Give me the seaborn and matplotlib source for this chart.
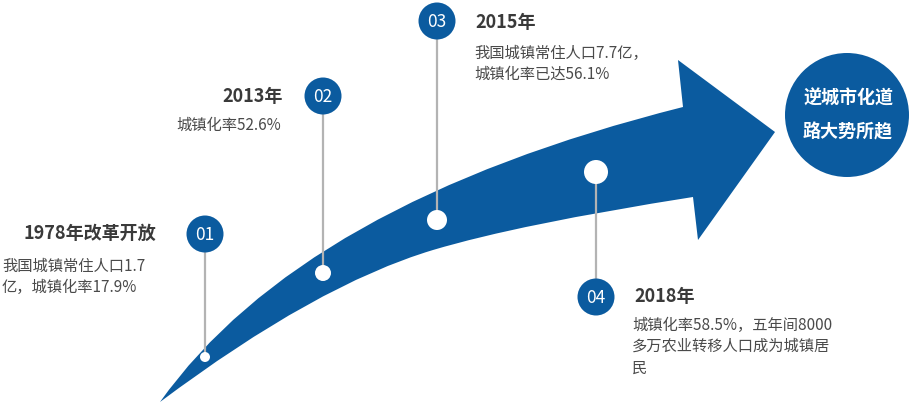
import pandas as pd
import numpy as np
import matplotlib
matplotlib.use('Agg')
import matplotlib.pyplot as plt
from matplotlib.path import Path
from matplotlib.patches import PathPatch
import seaborn as sns

# Datos del infografico
pasos = ['01', '02', '03', '04']
titulos = ['1978年改革开放', '2013年', '2015年', '2018年']
textos = [
    ['我国城镇常住人口1.7', '亿，城镇化率17.9%'],
    ['城镇化率52.6%'],
    ['我国城镇常住人口7.7亿，', '城镇化率已达56.1%'],
    ['城镇化率58.5%，五年间8000', '多万农业转移人口成为城镇居', '民'],
]
conclusion = ['逆城市化道', '路大势所趋']

# Layout (pixeles de la imagen 910x407)
x_pasos = [205, 323, 437, 596]
y_circulo = [234, 96, 21, 297]
y_punto = [357, 273, 220, 172]
r_punto = [5, 8, 10, 12]
r_circulo = 18.5
# titulo: (x, y, alineacion), cuerpo: (x, y primera linea, alineacion)
pos_titulo = [(156, 233, 'right'), (283, 96, 'right'), (475, 22, 'left'), (634, 297, 'left')]
pos_texto = [(2, 266, 'left'), (281, 125, 'right'), (474, 53, 'left'), (632, 325, 'left')]
interlinea = 21.5

AZUL = '#0b5b9f'
GRIS = '#b3b3b3'

sns.set_theme(style='white')
plt.rcParams['font.family'] = ['Noto Sans CJK SC', 'DejaVu Sans']

fig = plt.figure(figsize=(9.1, 4.07), dpi=100)
ax = fig.add_axes([0, 0, 1, 1])
ax.set_xlim(0, 910)
ax.set_ylim(407, 0)
ax.axis('off')

# Flecha curva
verts = [(160, 402), (301, 203), (683, 107),
         (678, 60), (775, 132), (698, 240), (693, 197),
         (520, 224), (433, 250), (316, 285), (160, 402), (160, 402)]
codes = [Path.MOVETO, Path.CURVE3, Path.CURVE3,
         Path.LINETO, Path.LINETO, Path.LINETO, Path.LINETO,
         Path.CURVE3, Path.CURVE3, Path.CURVE3, Path.CURVE3, Path.CLOSEPOLY]
ax.add_patch(PathPatch(Path(verts, codes), facecolor=AZUL, edgecolor='none', zorder=1))

# Lineas de conexion
for x, yc, yp in zip(x_pasos, y_circulo, y_punto):
    ax.plot([x, x], [yc, yp], color=GRIS, lw=1.6, zorder=2, solid_capstyle='butt')

# Puntos blancos sobre la flecha
df_puntos = pd.DataFrame({'x': x_pasos, 'y': y_punto, 'r': r_punto})
sns.scatterplot(data=df_puntos, x='x', y='y', ax=ax, color='white', edgecolor='none',
                s=[(2 * r * 0.72) ** 2 for r in r_punto], zorder=3, legend=False)

# Circulos numerados
df_circ = pd.DataFrame({'x': x_pasos, 'y': y_circulo})
sns.scatterplot(data=df_circ, x='x', y='y', ax=ax, color=AZUL, edgecolor='none',
                s=(2 * r_circulo * 0.72) ** 2, zorder=4, legend=False)
for paso, x, y in zip(pasos, x_pasos, y_circulo):
    ax.text(x, y + 1, paso, color='white', fontsize=12.5, ha='center', va='center',
            fontweight='light', zorder=5)

# Titulos y textos
for titulo, (tx, ty, ha) in zip(titulos, pos_titulo):
    ax.text(tx, ty, titulo, color='#3a3a3a', fontsize=13, fontweight='bold', ha=ha, va='center')
for lineas, (tx, ty, ha) in zip(textos, pos_texto):
    for i, linea in enumerate(lineas):
        ax.text(tx, ty + i * interlinea, linea, color='#4a4a4a', fontsize=11, ha=ha, va='center')

# Circulo final
sns.scatterplot(x=[847], y=[115], ax=ax, color=AZUL, edgecolor='none',
                s=(2 * 62 * 0.72) ** 2, zorder=4, legend=False)
for i, linea in enumerate(conclusion):
    ax.text(848, 98 + i * 34, linea, color='white', fontsize=13, fontweight='bold',
            ha='center', va='center', zorder=5)

ax.set_xlim(0, 910)
ax.set_ylim(407, 0)
plt.savefig('out.png', dpi=100)
plt.close()
